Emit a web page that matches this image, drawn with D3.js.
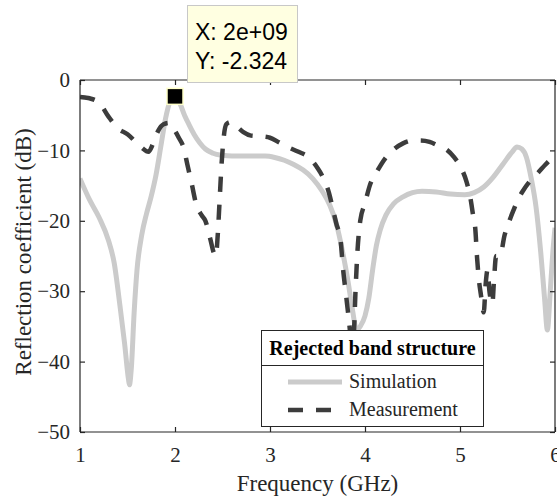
<!DOCTYPE html>
<html><head><meta charset="utf-8">
<script src="https://cdn.jsdelivr.net/npm/d3@7"></script>
<style>body{margin:0;background:#fff}svg{display:block}</style>
</head><body>
<svg id="c" width="557" height="496"></svg>
<script>
const xTicks = [1, 2, 3, 4, 5, 6];
const yTicks = [-50, -40, -30, -20, -10, 0];
const xLabel = "Frequency (GHz)";
const yLabel = "Reflection coefficient (dB)";
const legendTitle = "Rejected band structure";
const seriesNames = ["Simulation", "Measurement"];
const tipX = 2, tipY = -2.324;
const tipLines = ["X: 2e+09", "Y: -2.324"];

const simFreq = [1.00,1.10,1.20,1.30,1.36,1.42,1.47,1.51,1.52,1.54,1.57,1.60,1.65,1.70,1.75,1.80,1.85,1.90,1.95,2.00,2.05,2.10,2.15,2.20,2.26,2.32,2.40,2.50,2.60,2.80,2.95,3.05,3.15,3.25,3.35,3.45,3.55,3.63,3.70,3.77,3.82,3.87,3.91,3.95,4.00,4.04,4.08,4.12,4.16,4.22,4.30,4.40,4.50,4.60,4.75,4.90,5.05,5.15,5.25,5.35,5.45,5.55,5.60,5.65,5.70,5.75,5.80,5.85,5.89,5.92,5.95,5.98,6.00];
const simDB = [-14.0,-17.0,-19.5,-22.8,-26.0,-32.0,-37.5,-42.5,-43.3,-41.0,-33.0,-27.0,-22.0,-19.0,-16.5,-13.5,-9.5,-5.5,-3.0,-2.324,-3.3,-5.0,-6.4,-7.7,-8.9,-9.8,-10.4,-10.7,-10.8,-10.8,-10.8,-11.0,-11.4,-12.0,-12.8,-14.0,-15.8,-17.8,-20.5,-24.8,-28.5,-32.8,-35.5,-35.0,-33.5,-31.0,-27.0,-23.5,-21.3,-19.2,-17.6,-16.6,-16.0,-15.8,-15.9,-16.2,-16.3,-16.0,-15.2,-13.8,-12.0,-10.2,-9.5,-9.8,-11.0,-14.0,-18.0,-24.5,-31.0,-35.5,-30.0,-24.0,-21.0];

const measFreq = [1.00,1.05,1.10,1.20,1.30,1.40,1.50,1.58,1.65,1.72,1.77,1.82,1.88,1.94,1.99,2.04,2.09,2.13,2.18,2.22,2.28,2.32,2.37,2.41,2.43,2.45,2.47,2.49,2.51,2.54,2.58,2.65,2.72,2.80,2.90,3.00,3.10,3.20,3.30,3.40,3.50,3.56,3.62,3.66,3.70,3.74,3.77,3.80,3.83,3.86,3.88,3.90,3.92,3.95,4.00,4.05,4.13,4.22,4.30,4.40,4.50,4.58,4.68,4.78,4.86,4.94,5.02,5.07,5.11,5.14,5.16,5.18,5.20,5.22,5.25,5.27,5.29,5.31,5.34,5.36,5.38,5.42,5.47,5.52,5.56,5.61,5.66,5.74,5.82,5.90,5.97,6.00];
const measDB = [-2.4,-2.5,-2.6,-3.2,-5.2,-6.9,-7.7,-8.7,-9.6,-10.2,-9.0,-7.3,-6.3,-6.1,-7.0,-8.2,-9.6,-12.0,-15.0,-17.5,-19.2,-20.0,-22.5,-24.6,-25.0,-22.0,-17.0,-12.0,-8.5,-6.3,-6.0,-6.6,-7.4,-7.9,-8.0,-8.2,-8.9,-9.6,-10.2,-10.9,-12.5,-13.9,-16.0,-18.2,-20.5,-22.4,-27.0,-30.5,-34.0,-37.5,-36.5,-30.0,-24.5,-20.0,-17.5,-15.0,-12.9,-11.0,-9.9,-9.0,-8.6,-8.6,-8.8,-9.4,-9.9,-11.0,-12.7,-14.5,-16.8,-19.4,-21.0,-25.3,-28.5,-30.5,-33.0,-29.0,-27.0,-30.0,-31.8,-28.0,-25.0,-25.0,-22.0,-20.0,-18.6,-17.0,-15.8,-14.3,-13.2,-12.0,-11.1,-10.8];

const svg = d3.select("#c");
const L = 80, R = 555, T = 80, B = 432;
const x = d3.scaleLinear().domain([1, 6]).range([L, R]);
const y = d3.scaleLinear().domain([-50, 0]).range([B, T]);
const axisColor = "#262626";
const serif = "'Liberation Serif','Times New Roman',serif";

const clip = svg.append("defs").append("clipPath").attr("id","pc")
  .append("rect").attr("x", L).attr("y", T).attr("width", R-L).attr("height", B-T);

const line = d3.line().x(d => x(d[0])).y(d => y(d[1])).curve(d3.curveMonotoneX);
const sim = simFreq.map((f,i) => [f, simDB[i]]);
const meas = measFreq.map((f,i) => [f, measDB[i]]);

const plot = svg.append("g").attr("clip-path","url(#pc)");
plot.append("path").attr("d", line(sim)).attr("fill","none")
  .attr("stroke","#cbcbcb").attr("stroke-width",5).attr("stroke-linejoin","round");
plot.append("path").attr("d", line(meas)).attr("fill","none")
  .attr("stroke","#3c3c3c").attr("stroke-width",4.5).attr("stroke-dasharray","15,13");

// axes
const gx = svg.append("g").attr("transform",`translate(0,${B})`)
  .call(d3.axisBottom(x).tickValues(xTicks).tickSize(-5).tickPadding(12).tickFormat(d3.format("d")));
const gxt = svg.append("g").attr("transform",`translate(0,${T})`)
  .call(d3.axisTop(x).tickValues(xTicks).tickSize(-5).tickFormat(""));
const gy = svg.append("g").attr("transform",`translate(${L},0)`)
  .call(d3.axisLeft(y).tickValues(yTicks).tickSize(-5).tickPadding(10).tickFormat(d3.format("d")));
const gyr = svg.append("g").attr("transform",`translate(${R},0)`)
  .call(d3.axisRight(y).tickValues(yTicks).tickSize(-5).tickFormat(""));
[gx,gxt,gy,gyr].forEach(g => {
  g.selectAll("path").attr("stroke", axisColor).attr("stroke-width",1.2);
  g.selectAll("line").attr("stroke", axisColor).attr("stroke-width",1.2);
  g.selectAll("text").attr("fill", axisColor).style("font-family", serif).style("font-size","21px");
});
gx.selectAll("path").attr("d", `M${L},0H${R}`);
gxt.selectAll("path").attr("d", `M${L},0H${R}`);
gy.selectAll("path").attr("d", `M0,${T}V${B}`);
gyr.selectAll("path").attr("d", `M0,${T}V${B}`);
gx.selectAll("text").attr("dy", null).attr("y", 30);

svg.append("text").attr("x", (L+R)/2).attr("y", 491).attr("text-anchor","middle")
  .style("font-family", serif).style("font-size","23px").attr("fill", axisColor).text(xLabel);
svg.append("text").attr("transform",`translate(31,${(T+B)/2 - 4}) rotate(-90)`).attr("text-anchor","middle")
  .style("font-family", serif).style("font-size","23px").attr("fill", axisColor).text(yLabel);

// legend
const lg = svg.append("g");
lg.append("rect").attr("x",261.5).attr("y",330.5).attr("width",222).attr("height",96)
  .attr("fill","#fff").attr("stroke",axisColor).attr("stroke-width",1);
lg.append("line").attr("x1",261.5).attr("x2",483.5).attr("y1",365.5).attr("y2",365.5)
  .attr("stroke",axisColor).attr("stroke-width",1);
lg.append("text").attr("x",372.5).attr("y",355).attr("text-anchor","middle")
  .style("font-family", serif).style("font-size","20px").style("font-weight","bold")
  .attr("fill","#000").text(legendTitle);
lg.append("line").attr("x1",288).attr("x2",342).attr("y1",382).attr("y2",382)
  .attr("stroke","#cbcbcb").attr("stroke-width",5);
lg.append("line").attr("x1",288).attr("x2",342).attr("y1",410).attr("y2",410)
  .attr("stroke","#3c3c3c").attr("stroke-width",4.5).attr("stroke-dasharray","15,13");
lg.append("text").attr("x",349).attr("y",388).style("font-family", serif).style("font-size","20px")
  .attr("fill",axisColor).text(seriesNames[0]);
lg.append("text").attr("x",349).attr("y",416).style("font-family", serif).style("font-size","20px")
  .attr("fill",axisColor).text(seriesNames[1]);

// datatip
svg.append("rect").attr("x", x(tipX)-8).attr("y", y(tipY)-8).attr("width",16).attr("height",16)
  .attr("fill","#000").attr("stroke","#ffffc8").attr("stroke-width",1.5);
const tip = svg.append("g");
tip.append("rect").attr("x",187.5).attr("y",5.5).attr("width",110).attr("height",77)
  .attr("fill","#ffffe1").attr("stroke","#c8c8c8").attr("stroke-width",1);
tipLines.forEach((t,i) => tip.append("text").attr("x",195).attr("y",40 + i*29)
  .style("font-family","'Liberation Sans',Arial,sans-serif").style("font-size","23px")
  .attr("fill","#000").text(t));
</script>
</body></html>
